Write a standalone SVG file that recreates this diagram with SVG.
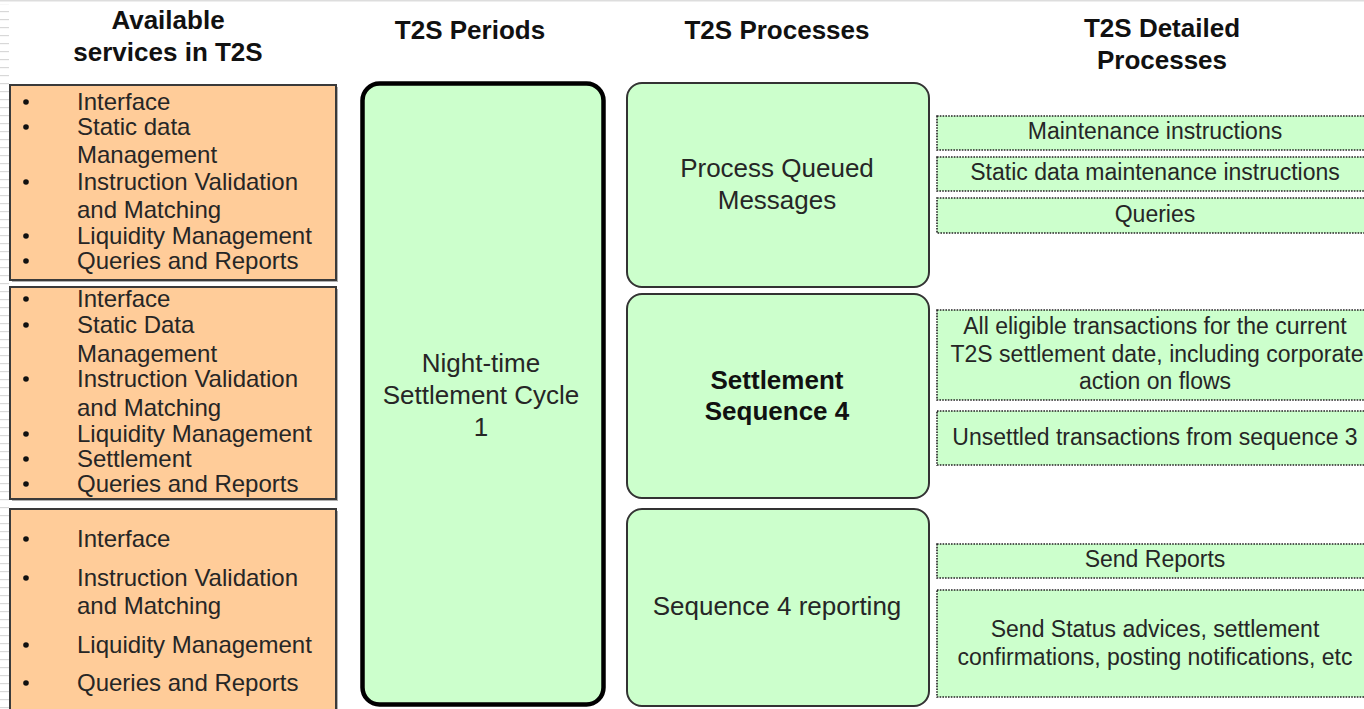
<svg xmlns="http://www.w3.org/2000/svg" width="1364" height="709" viewBox="0 0 1364 709">
<style>
  text { font-family: "Liberation Sans", Arial, sans-serif; fill: #262626; }
  .hdr { font-size: 26px; font-weight: bold; text-anchor: middle; fill: #111; }
  .svc { font-size: 24px; }
  .proc { font-size: 26px; text-anchor: middle; }
  .procb { font-size: 26px; font-weight: bold; text-anchor: middle; fill: #111; }
  .det { font-size: 23px; text-anchor: middle; }
  .orange { fill: #FFCC99; stroke: #3a3a3a; stroke-width: 2; }
  .shadow { fill: #b0b0b0; }
  .green { fill: #CCFFCC; stroke: #333; stroke-width: 2; }
  .period { fill: #CCFFCC; stroke: #000; stroke-width: 4.5; }
  .dotted { fill: #CCFFCC; stroke: #222; stroke-width: 1.6; stroke-dasharray: 1.6 1.2; }
  .bullet { fill: #111; }
</style>
<defs>
  <pattern id="stripes" x="0" y="0" width="10" height="8" patternUnits="userSpaceOnUse">
    <rect x="0" y="3" width="9" height="1.2" fill="#d8d8d8"/>
  </pattern>
</defs>
<rect x="0" y="0" width="1364" height="709" fill="#ffffff"/>
<rect x="0" y="0" width="1364" height="1.5" fill="#dddddd"/>
<rect x="0" y="4" width="9" height="705" fill="url(#stripes)"/>

<g id="headers">
  <text class="hdr" x="168" y="29">Available</text>
  <text class="hdr" x="168" y="61">services in T2S</text>
  <text class="hdr" x="470" y="39">T2S Periods</text>
  <text class="hdr" x="777" y="39">T2S Processes</text>
  <text class="hdr" x="1162" y="37">T2S Detailed</text>
  <text class="hdr" x="1162" y="69">Processes</text>
</g>

<g id="services1">
  <rect class="shadow" x="12" y="87" width="326" height="195"/>
  <rect class="orange" x="10" y="85" width="326" height="195"/>
  <circle class="bullet" cx="26" cy="102" r="2.8"/>
  <circle class="bullet" cx="26" cy="127" r="2.8"/>
  <circle class="bullet" cx="26" cy="182" r="2.8"/>
  <circle class="bullet" cx="26" cy="236" r="2.8"/>
  <circle class="bullet" cx="26" cy="261" r="2.8"/>
  <text class="svc" x="77" y="110">Interface</text>
  <text class="svc" x="77" y="135">Static data</text>
  <text class="svc" x="77" y="163">Management</text>
  <text class="svc" x="77" y="190">Instruction Validation</text>
  <text class="svc" x="77" y="218">and Matching</text>
  <text class="svc" x="77" y="244">Liquidity Management</text>
  <text class="svc" x="77" y="269">Queries and Reports</text>
</g>

<g id="services2">
  <rect class="shadow" x="12" y="289" width="326" height="212"/>
  <rect class="orange" x="10" y="287" width="326" height="212"/>
  <circle class="bullet" cx="26" cy="299" r="2.8"/>
  <circle class="bullet" cx="26" cy="325" r="2.8"/>
  <circle class="bullet" cx="26" cy="379" r="2.8"/>
  <circle class="bullet" cx="26" cy="434" r="2.8"/>
  <circle class="bullet" cx="26" cy="459" r="2.8"/>
  <circle class="bullet" cx="26" cy="484" r="2.8"/>
  <text class="svc" x="77" y="307">Interface</text>
  <text class="svc" x="77" y="333">Static Data</text>
  <text class="svc" x="77" y="362">Management</text>
  <text class="svc" x="77" y="387">Instruction Validation</text>
  <text class="svc" x="77" y="416">and Matching</text>
  <text class="svc" x="77" y="442">Liquidity Management</text>
  <text class="svc" x="77" y="467">Settlement</text>
  <text class="svc" x="77" y="492">Queries and Reports</text>
</g>

<g id="services3">
  <rect class="shadow" x="12" y="511" width="326" height="210"/>
  <rect class="orange" x="10" y="509" width="326" height="210"/>
  <circle class="bullet" cx="26" cy="539" r="2.8"/>
  <circle class="bullet" cx="26" cy="578" r="2.8"/>
  <circle class="bullet" cx="26" cy="645" r="2.8"/>
  <circle class="bullet" cx="26" cy="683" r="2.8"/>
  <text class="svc" x="77" y="547">Interface</text>
  <text class="svc" x="77" y="586">Instruction Validation</text>
  <text class="svc" x="77" y="614">and Matching</text>
  <text class="svc" x="77" y="653">Liquidity Management</text>
  <text class="svc" x="77" y="691">Queries and Reports</text>
</g>

<g id="period">
  <rect class="period" x="362.5" y="83.5" width="241" height="621" rx="17" ry="17"/>
  <text class="proc" x="481" y="372">Night-time</text>
  <text class="proc" x="481" y="404">Settlement Cycle</text>
  <text class="proc" x="481" y="436">1</text>
</g>

<g id="process1">
  <rect class="green" x="627" y="83" width="302" height="204" rx="15" ry="15"/>
  <text class="proc" x="777" y="177">Process Queued</text>
  <text class="proc" x="777" y="209">Messages</text>
</g>

<g id="process2">
  <rect class="green" x="627" y="294" width="302" height="204" rx="15" ry="15"/>
  <text class="procb" x="777" y="389">Settlement</text>
  <text class="procb" x="777" y="420">Sequence 4</text>
</g>

<g id="process3">
  <rect class="green" x="627" y="509" width="302" height="197" rx="15" ry="15"/>
  <text class="proc" x="777" y="615">Sequence 4 reporting</text>
</g>

<g id="detail-maintenance">
  <rect class="dotted" x="937" y="116" width="440" height="34"/>
  <text class="det" x="1155" y="139">Maintenance instructions</text>
</g>
<g id="detail-static">
  <rect class="dotted" x="937" y="157" width="440" height="34"/>
  <text class="det" x="1155" y="180">Static data maintenance instructions</text>
</g>
<g id="detail-queries">
  <rect class="dotted" x="937" y="198" width="440" height="35"/>
  <text class="det" x="1155" y="222">Queries</text>
</g>
<g id="detail-eligible">
  <rect class="dotted" x="937" y="310" width="440" height="90"/>
  <text class="det" x="1155" y="334">All eligible transactions for the current</text>
  <text class="det" x="1157" y="362">T2S settlement date, including corporate</text>
  <text class="det" x="1155" y="389">action on flows</text>
</g>
<g id="detail-unsettled">
  <rect class="dotted" x="937" y="411" width="440" height="54"/>
  <text class="det" x="1155" y="445">Unsettled transactions from sequence 3</text>
</g>
<g id="detail-reports">
  <rect class="dotted" x="937" y="544" width="440" height="34"/>
  <text class="det" x="1155" y="567">Send Reports</text>
</g>
<g id="detail-status">
  <rect class="dotted" x="937" y="590" width="440" height="107"/>
  <text class="det" x="1155" y="637">Send Status advices, settlement</text>
  <text class="det" x="1155" y="665">confirmations, posting notifications, etc</text>
</g>

<g id="connectors"></g>
</svg>
